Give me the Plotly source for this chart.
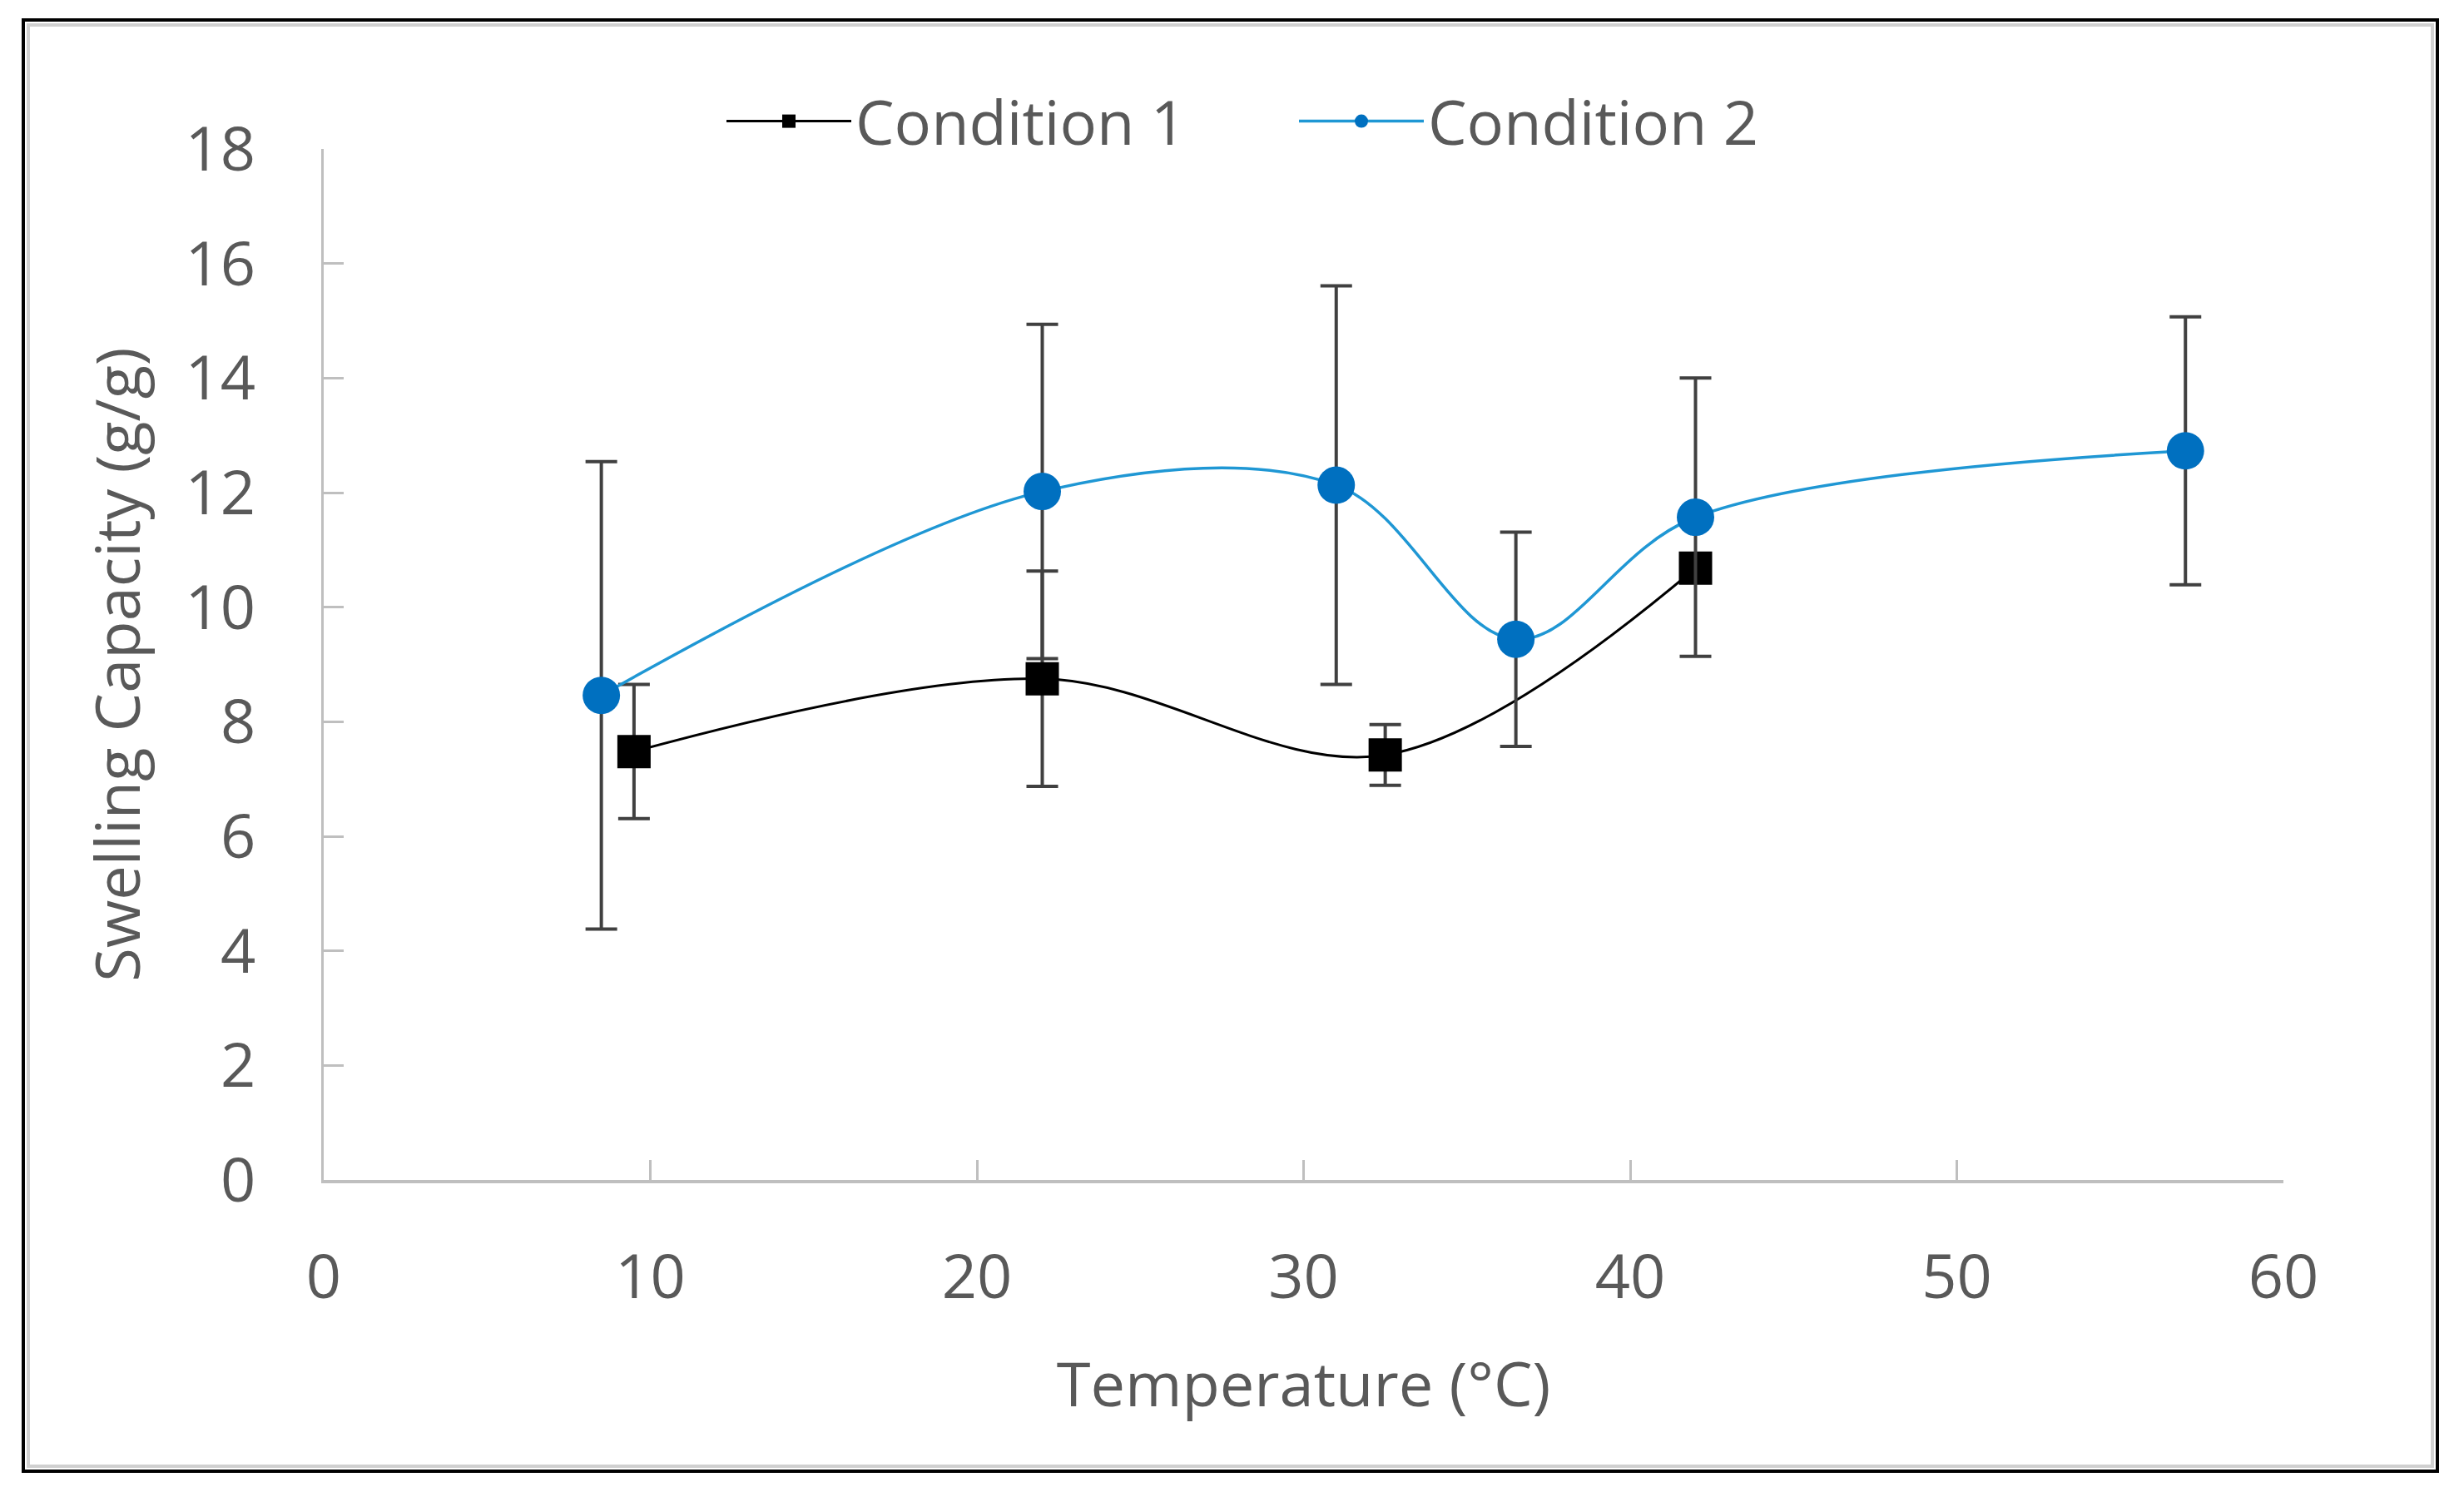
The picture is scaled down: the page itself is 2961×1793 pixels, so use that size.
import plotly.graph_objects as go

# ---- data ----
c1_temp = [9.5, 22, 32.5, 42]
c1_swell = [7.48, 8.75, 7.42, 10.68]
c1_err = [1.17, 1.88, 0.53, 0.25]

c2_temp = [8.5, 22, 31, 36.5, 42, 57]
c2_swell = [8.46, 12.02, 12.13, 9.44, 11.57, 12.73]
c2_err = [4.08, 2.92, 3.48, 1.87, 2.43, 2.34]

x_ticks = [0, 10, 20, 30, 40, 50, 60]
y_ticks = [0, 2, 4, 6, 8, 10, 12, 14, 16, 18]

OFF = 8  # default page body margin
W, H = 2961 - 2 * OFF, 1793 - 2 * OFF
L, T = 389 - OFF, 179 - OFF
PW, PH = 2355, 1239
R, B = W - L - PW, H - T - PH

FONT = "Open Sans"
FS = 74
TXT = "#595959"
AXC = "#bfbfbf"
ERRC = "#404040"

fig = go.Figure()
fig.add_trace(go.Scatter(
    x=c1_temp, y=c1_swell, name="Condition 1", mode="lines+markers",
    line=dict(color="#000000", width=3, shape="spline", smoothing=1.0),
    marker=dict(symbol="square", size=40, color="#000000"),
    error_y=dict(type="data", array=c1_err, visible=True, color=ERRC, thickness=4, width=19),
))
fig.add_trace(go.Scatter(
    x=c2_temp, y=c2_swell, name="Condition 2", mode="lines+markers",
    line=dict(color="#1f97d4", width=3.5, shape="spline", smoothing=1.0),
    marker=dict(symbol="circle", size=45, color="#0070c0"),
    error_y=dict(type="data", array=c2_err, visible=True, color=ERRC, thickness=4, width=19),
))

def px2paper_x(page_px):
    return (page_px - OFF - L) / PW

def px2paper_y(page_py):
    return (T + PH - (page_py - OFF)) / PH

fig.update_layout(
    width=W, height=H,
    margin=dict(l=L, r=R, t=T, b=B, pad=0),
    paper_bgcolor="white", plot_bgcolor="white",
    font=dict(family=FONT, size=FS, color=TXT),
    showlegend=True,
    legend=dict(
        orientation="h", x=px2paper_x(868), xanchor="left",
        y=px2paper_y(146), yanchor="middle",
        font=dict(family=FONT, size=FS, color=TXT),
        itemwidth=150, entrywidth=523, bgcolor="rgba(0,0,0,0)",
    ),
    xaxis=dict(
        range=[0, 60], tickvals=x_ticks, ticktext=[str(v) for v in x_ticks],
        ticks="inside", ticklen=24, tickwidth=3, tickcolor=AXC,
        showline=True, linecolor=AXC, linewidth=4,
        showgrid=False, zeroline=False, ticklabelstandoff=49,
        tickfont=dict(family=FONT, size=FS, color=TXT),
        title=dict(text="Temperature (°C)", standoff=58,
                   font=dict(family=FONT, size=FS, color=TXT)),
    ),
    yaxis=dict(
        range=[0, 18], tickvals=y_ticks, ticktext=[str(v) for v in y_ticks],
        ticks="inside", ticklen=24, tickwidth=3, tickcolor=AXC,
        showline=True, linecolor=AXC, linewidth=3,
        showgrid=False, zeroline=False, ticklabelstandoff=64,
        tickfont=dict(family=FONT, size=FS, color=TXT),
        title=dict(text="Swelling Capacity (g/g)", standoff=30,
                   font=dict(family=FONT, size=FS, color=TXT)),
    ),
    shapes=[
        dict(type="rect", xref="paper", yref="paper",
             x0=px2paper_x(34), x1=px2paper_x(2923), y0=px2paper_y(1762), y1=px2paper_y(30),
             line=dict(color="#d0d0d0", width=4), fillcolor="rgba(0,0,0,0)", layer="below"),
        dict(type="rect", xref="paper", yref="paper",
             x0=px2paper_x(28), x1=px2paper_x(2929), y0=px2paper_y(1768), y1=px2paper_y(24),
             line=dict(color="#000000", width=4), fillcolor="rgba(0,0,0,0)", layer="above"),
    ],
)

fig.write_html("out.html")
